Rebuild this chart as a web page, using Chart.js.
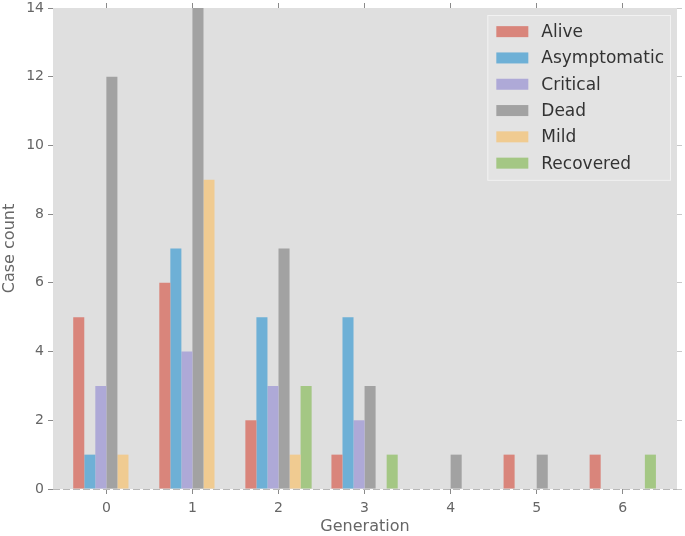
<!DOCTYPE html>
<html>
<head>
<meta charset="utf-8">
<script src="https://cdn.jsdelivr.net/npm/chart.js@4/dist/chart.umd.min.js"></script>
<style>
  html, body { margin: 0; padding: 0; background: #ffffff; }
  #wrap { width: 685px; height: 536px; }
</style>
</head>
<body>
<div id="wrap"><canvas id="chart"></canvas></div>
<script>
// values
const generations = [0, 1, 2, 3, 4, 5, 6];
const alive        = [5, 6, 2, 1, 0, 1, 1];
const asymptomatic = [1, 7, 5, 5, 0, 0, 0];
const critical     = [3, 4, 3, 2, 0, 0, 0];
const dead         = [12, 14, 7, 3, 1, 1, 0];
const mild         = [1, 9, 1, 0, 0, 0, 0];
const recovered    = [0, 0, 3, 1, 0, 0, 1];
const yTicks = [0, 2, 4, 6, 8, 10, 12, 14];

const series = [
  { label: 'Alive', values: alive, color: '#d9857b' },
  { label: 'Asymptomatic', values: asymptomatic, color: '#6eb0d6' },
  { label: 'Critical', values: critical, color: '#aea9d7' },
  { label: 'Dead', values: dead, color: '#a2a2a2' },
  { label: 'Mild', values: mild, color: '#f0cb91' },
  { label: 'Recovered', values: recovered, color: '#a4c784' }
];

const tickGray = '#8a8a8a';
const textGray = '#666666';

// gray panel behind the bars
const panelBg = {
  id: 'panelBg',
  beforeDraw(chart) {
    const { ctx, chartArea: a } = chart;
    ctx.save();
    ctx.fillStyle = '#dfdfdf';
    ctx.fillRect(a.left, a.top, a.right - a.left, a.bottom - a.top);
    ctx.restore();
  }
};

// legend box inside the plot, upper right
const innerLegend = {
  id: 'innerLegend',
  afterDraw(chart) {
    const { ctx, chartArea: a } = chart;
    const rowH = 26.3, padX = 9, patchW = 32, patchH = 11, gap = 13;
    ctx.save();
    ctx.font = '17px "DejaVu Sans"';
    let textW = 0;
    chart.data.datasets.forEach(d => { textW = Math.max(textW, ctx.measureText(d.label).width); });
    const boxW = padX + patchW + gap + textW + 6;
    const boxH = rowH * chart.data.datasets.length + 7;
    const x0 = a.right - 7 - boxW, y0 = a.top + 7;
    ctx.fillStyle = '#e3e3e3';
    ctx.fillRect(x0, y0, boxW, boxH);
    ctx.strokeStyle = '#f2f2f2';
    ctx.lineWidth = 1;
    ctx.strokeRect(x0 + 0.5, y0 + 0.5, boxW, boxH);
    ctx.textBaseline = 'middle';
    chart.data.datasets.forEach((d, i) => {
      const cy = y0 + 8.5 + rowH * i + rowH / 2 - 5;
      ctx.fillStyle = d.backgroundColor;
      ctx.fillRect(x0 + padX, cy - patchH / 2, patchW, patchH);
      ctx.fillStyle = '#333333';
      ctx.fillText(d.label, x0 + padX + patchW + gap, cy + 1);
    });
    ctx.restore();
  }
};

new Chart(document.getElementById('chart'), {
  type: 'bar',
  data: {
    datasets: series.map(s => ({
      label: s.label,
      data: generations.map((g, i) => ({ x: g, y: s.values[i] })),
      backgroundColor: s.color,
      borderWidth: 0,
      categoryPercentage: 0.77,
      barPercentage: 1.0
    }))
  },
  options: {
    responsive: true,
    maintainAspectRatio: false,
    animation: false,
    events: [],
    layout: { padding: 0 },
    plugins: { legend: { display: false }, tooltip: { enabled: false } },
    scales: {
      x: {
        type: 'linear',
        position: 'bottom',
        offset: false,
        min: -0.62,
        max: 6.63,
        afterBuildTicks: s => { s.ticks = generations.map(v => ({ value: v })); },
        afterFit: s => { s.height = 47; s.paddingLeft = 0; s.paddingRight = 0; },
        border: { display: false },
        grid: { offset: false, drawOnChartArea: false, tickLength: 5, tickColor: tickGray },
        ticks: { color: textGray, font: { family: 'DejaVu Sans', size: 14 }, padding: 6, maxRotation: 0 },
        title: { display: true, text: 'Generation', color: textGray, font: { family: 'DejaVu Sans', size: 16 }, padding: { top: 0, bottom: 0 } }
      },
      x2: {
        type: 'linear',
        position: 'top',
        offset: false,
        min: -0.62,
        max: 6.63,
        afterBuildTicks: s => { s.ticks = generations.map(v => ({ value: v })); },
        afterFit: s => { s.height = 8; s.paddingLeft = 0; s.paddingRight = 0; },
        border: { display: false },
        grid: { offset: false, drawOnChartArea: false, tickLength: 5, tickColor: tickGray },
        ticks: { display: false }
      },
      y: {
        position: 'left',
        min: 0,
        max: 14,
        afterBuildTicks: s => { s.ticks = yTicks.map(v => ({ value: v })); },
        afterFit: s => { s.width = 53; s.paddingTop = 0; s.paddingBottom = 0; },
        border: { display: false, dash: [7, 3] },
        grid: {
          color: c => (c.tick && c.tick.value === 0 ? '#b8b8b8' : 'rgba(0,0,0,0)'),
          tickColor: tickGray,
          tickLength: 5,
          tickBorderDash: []
        },
        ticks: { color: textGray, font: { family: 'DejaVu Sans', size: 14 }, padding: 4 },
        title: { display: true, text: 'Case count', color: textGray, font: { family: 'DejaVu Sans', size: 16 }, padding: { top: 0, bottom: 0 } }
      },
      y2: {
        position: 'right',
        min: 0,
        max: 14,
        afterBuildTicks: s => { s.ticks = yTicks.map(v => ({ value: v })); },
        afterFit: s => { s.width = 8; s.paddingTop = 0; s.paddingBottom = 0; },
        border: { display: false },
        grid: { drawOnChartArea: false, tickLength: 5, tickColor: '#c8c8c8' },
        ticks: { display: false }
      }
    }
  },
  plugins: [panelBg, innerLegend]
});
</script>
</body>
</html>
